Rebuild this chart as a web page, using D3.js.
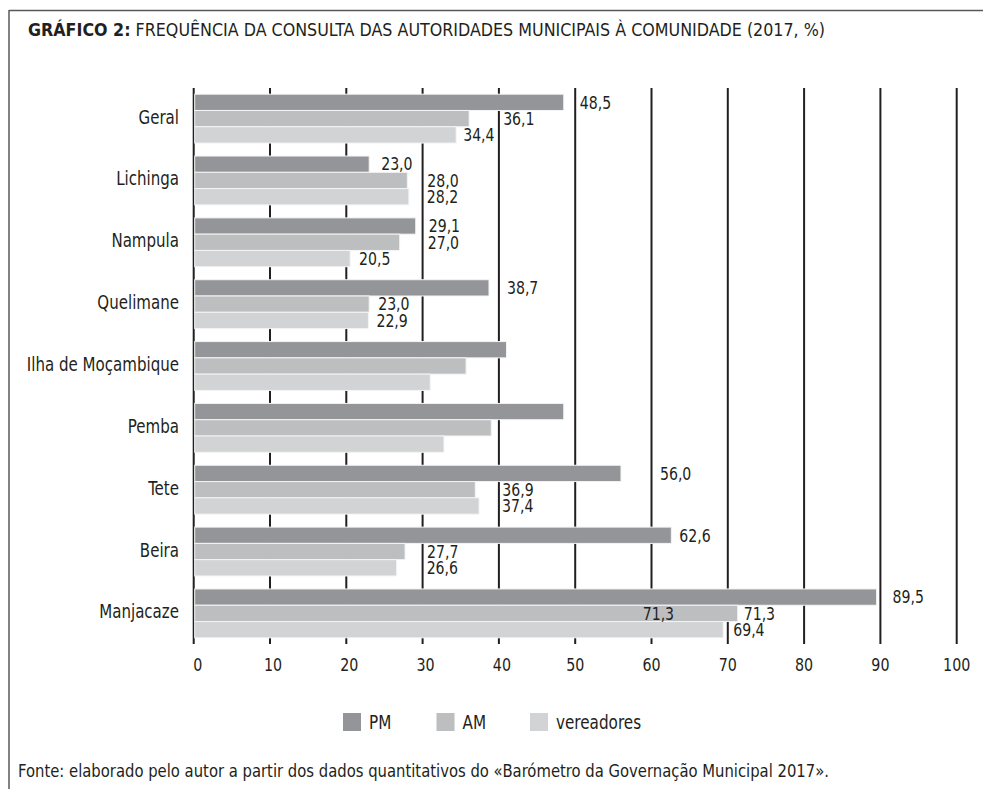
<!DOCTYPE html>
<html>
<head>
<meta charset="utf-8">
<script src="https://cdn.jsdelivr.net/npm/d3@7"></script>
<style>
  html, body { margin: 0; padding: 0; background: #fff; }
  svg { display: block; }
  text { font-family: "DejaVu Sans Condensed", "DejaVu Sans", sans-serif; fill: #231f20; }
</style>
</head>
<body>
<svg id="chart" width="983" height="789"></svg>
<script>
// ---------- data ----------
const categories = ["Geral", "Lichinga", "Nampula", "Quelimane", "Ilha de Moçambique", "Pemba", "Tete", "Beira", "Manjacaze"];
const seriesNames = ["PM", "AM", "vereadores"];
const pmValues = [48.5, 23.0, 29.1, 38.7, 41.0, 48.5, 56.0, 62.6, 89.5];
const amValues = [36.1, 28.0, 27.0, 23.0, 35.7, 39.0, 36.9, 27.7, 71.3];
const vereadoresValues = [34.4, 28.2, 20.5, 22.9, 31.0, 32.8, 37.4, 26.6, 69.4];
const labelledCategories = ["Geral", "Lichinga", "Nampula", "Quelimane", "Tete", "Beira", "Manjacaze"];
const tickValues = [0, 10, 20, 30, 40, 50, 60, 70, 80, 90, 100];
const titleBold = "GRÁFICO 2:";
const titleRest = " FREQUÊNCIA DA CONSULTA DAS AUTORIDADES MUNICIPAIS À COMUNIDADE (2017, %)";
const sourceText = "Fonte: elaborado pelo autor a partir dos dados quantitativos do «Barómetro da Governação Municipal 2017».";

// ---------- layout (label offsets in px from bar end, kept apart from data) ----------
const labelDx = {
  "Geral": [16, 34, 7],
  "Lichinga": [12, 20, 18],
  "Nampula": [13, 28, 9],
  "Quelimane": [18, 9, 8],
  "Tete": [39, 27, 23],
  "Beira": [8, 22, 30],
  "Manjacaze": [16, 6, 10]
};
const extraLabels = [{ cat: "Manjacaze", series: 1, dx: -95 }];

const colors = ["#939598", "#bcbec0", "#d1d3d4"];
const ink = "#231f20";

const seriesValues = [pmValues, amValues, vereadoresValues];
const svg = d3.select("#chart");
const fmt = v => d3.format(".1f")(v).replace(".", ",");

// horizontally condense text to imitate the narrow typeface of the original
function condense(sel, factor) {
  sel.each(function () {
    const w = this.getComputedTextLength();
    d3.select(this).attr("textLength", w * factor).attr("lengthAdjust", "spacingAndGlyphs");
  });
}
function fitWidth(sel, target) {
  sel.attr("textLength", target).attr("lengthAdjust", "spacingAndGlyphs");
}

// frame
svg.append("line").attr("x1", 9).attr("x2", 983).attr("y1", 10.5).attr("y2", 10.5)
  .attr("stroke", "#58595b").attr("stroke-width", 1.5);
svg.append("line").attr("x1", 9).attr("x2", 9).attr("y1", 10).attr("y2", 789)
  .attr("stroke", "#58595b").attr("stroke-width", 1.5);

// title
const title = svg.append("text").attr("x", 28).attr("y", 36).attr("font-size", 17.5);
title.append("tspan").attr("font-weight", "bold").text(titleBold);
title.append("tspan").text(titleRest);
fitWidth(title, 797);

// scales
const x = d3.scaleLinear().domain([0, 100]).range([193.7, 956.7]);
const y = d3.scaleBand().domain(categories).range([88, 644]).paddingInner(0.21).paddingOuter(0.1);
const ys = d3.scaleBand().domain(d3.range(seriesNames.length)).range([0, y.bandwidth()]);

// gridlines
svg.append("g").selectAll("line").data(tickValues).join("line")
  .attr("x1", d => x(d)).attr("x2", d => x(d))
  .attr("y1", 88).attr("y2", 644)
  .attr("stroke", ink).attr("stroke-width", 2);

// tick labels
svg.append("g").selectAll("text").data(tickValues).join("text")
  .attr("x", d => x(d) + (d === 0 ? 4 : d < 50 ? 3 : 0))
  .attr("y", 671)
  .attr("text-anchor", "middle")
  .attr("font-size", 18)
  .text(d => d)
  .call(condense, 0.88);

// bars
const barData = [];
categories.forEach((c, i) => {
  seriesValues.forEach((vals, s) => barData.push({ cat: c, s, v: vals[i] }));
});
svg.append("g").selectAll("rect").data(barData).join("rect")
  .attr("x", x(0) + 1)
  .attr("y", d => y(d.cat) + ys(d.s))
  .attr("width", d => x(d.v) - x(0) - 1)
  .attr("height", ys.bandwidth())
  .attr("fill", d => colors[d.s])
  .attr("stroke", "#f4f4f4").attr("stroke-width", 1);

// category labels
svg.append("g").selectAll("text").data(categories).join("text")
  .attr("x", 179)
  .attr("y", d => y(d) + y.bandwidth() / 2 + 5)
  .attr("text-anchor", "end")
  .attr("font-size", 19)
  .text(d => d)
  .call(condense, 0.88);

// value labels
const labelData = barData.filter(d => labelledCategories.includes(d.cat))
  .map(d => ({ ...d, dx: labelDx[d.cat][d.s] }));
extraLabels.forEach(e => {
  const i = categories.indexOf(e.cat);
  labelData.push({ cat: e.cat, s: e.series, v: seriesValues[e.series][i], dx: e.dx });
});
svg.append("g").selectAll("text").data(labelData).join("text")
  .attr("x", d => x(d.v) + d.dx)
  .attr("y", d => y(d.cat) + ys(d.s) + ys.bandwidth() / 2 + 6.3)
  .attr("font-size", 18)
  .text(d => fmt(d.v))
  .call(condense, 0.87);

// legend
const legend = svg.append("g").attr("transform", "translate(343,713)");
const items = legend.selectAll("g").data(seriesNames).join("g")
  .attr("transform", (d, i) => `translate(${i * 93.5},0)`);
items.append("rect").attr("width", 18).attr("height", 18).attr("fill", (d, i) => colors[i]);
items.append("text").attr("x", 26).attr("y", 16).attr("font-size", 19).text(d => d)
  .call(condense, 0.89);

// source
const src = svg.append("text").attr("x", 18).attr("y", 777).attr("font-size", 18).text(sourceText);
fitWidth(src, 811);
</script>
</body>
</html>
